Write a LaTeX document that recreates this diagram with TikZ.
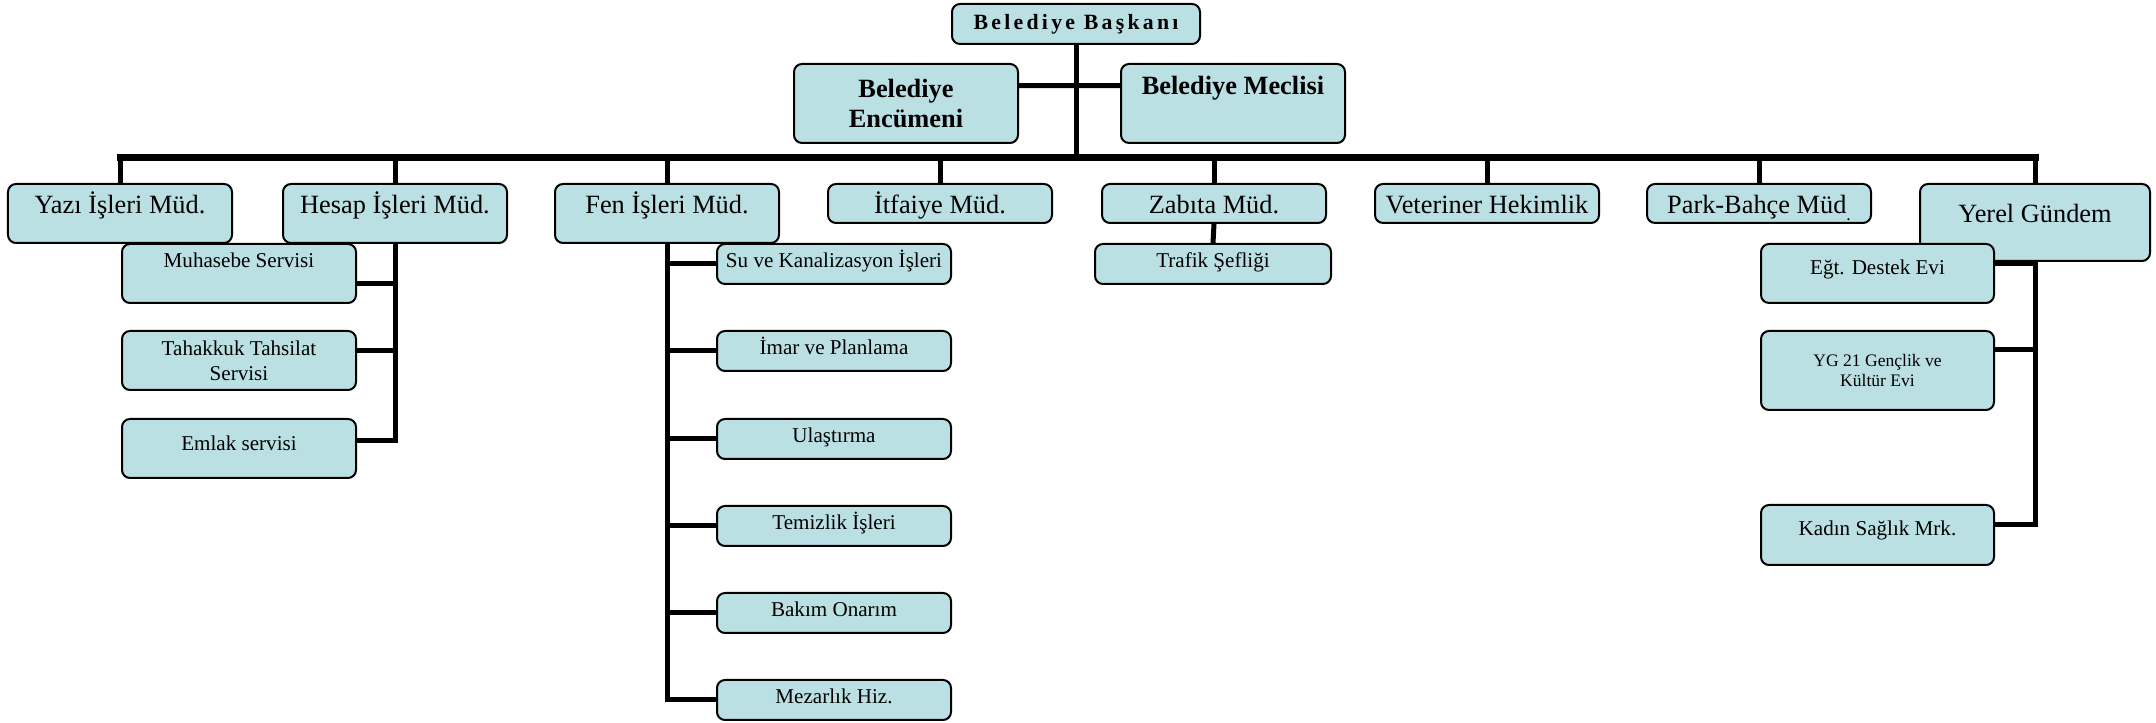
\documentclass[tikz,border=0pt]{standalone}
\usepackage{fontspec}
\setmainfont{Liberation Serif}
\definecolor{kutu}{RGB}{187,224,228}

\begin{document}
\begin{tikzpicture}[
					every node/.style = {
						shape = rectangle,
						draw,
						rounded corners = 0.08cm,
						line width = 0.02cm,
						fill = kutu,
						anchor = north,
						align = center,
						inner xsep = 0.04cm,
						inner ysep = 0.08cm,
					},
					mud/.style = {
						minimum width = 2.24cm,
						font = \fontsize{7.5}{8.6}\selectfont,
						text height = 0.22cm,
						text depth = #1,
					},
					servis/.style = {
						minimum width = 2.34cm,
						font = \fontsize{6}{7.2}\selectfont,
						text height = 0.16cm,
						text depth = #1,
					},
					conn/.style = {
						line width = 0.05cm,
					},
			]
				\useasboundingbox (0, 0) rectangle (21.56, -7.23);

				\draw (10.76, -0.03) node (baskan) [minimum width = 2.48cm, minimum height = 0.40cm,
					font = \fontsize{6.2}{7}\selectfont\bfseries\addfontfeature{LetterSpace=15}] {Belediye Başkanı};
				\draw (9.06, -0.63) node (encumen) [mud = , text height = , minimum height = 0.79cm,
					font = \fontsize{7.5}{8.6}\selectfont\bfseries] {Belediye\\Encümeni};
				\draw (12.33, -0.63) node (meclis) [mud = 0.40cm, text height = 0.23cm,
					font = \fontsize{7.5}{8.6}\selectfont\bfseries] {Belediye Meclisi};

				\draw (1.20, -1.83) node (yazi) [mud = 0.21cm] {Yazı İşleri Müd.};
				\draw (3.95, -1.83) node (hesap) [mud = 0.21cm] {Hesap İşleri Müd.};
				\draw (6.67, -1.83) node (fen) [mud = 0.21cm] {Fen İşleri Müd.};
				\draw (9.40, -1.83) node (itfaiye) [mud = 0.01cm] {İtfaiye Müd.};
				\draw (12.14, -1.83) node (zabita) [mud = 0.01cm] {Zabıta Müd.};
				\draw (14.87, -1.83) node (veteriner) [mud = 0.01cm] {Veteriner Hekimlik};
				\draw (17.59, -1.83) node (park) [mud = 0.01cm] {Park-Bahçe Müd\raisebox{-0.25em}{\tiny .}};
				\draw (20.35, -1.83) node (yerel) [mud = 0.30cm, text height = 0.31cm, minimum width = 2.30cm] {Yerel Gündem};

				\draw (2.39, -2.43) node (muhasebe) [servis = 0.27cm] {Muhasebe Servisi};
				\draw (2.39, -3.30) node (tahakkuk) [servis = , text height = , minimum height = 0.59cm] {Tahakkuk Tahsilat\\Servisi};
				\draw (2.39, -4.18) node (emlak) [servis = 0.19cm, text height = 0.24cm] {Emlak servisi};

				\draw (8.34, -2.43) node (su) [servis = 0.08cm] {Su ve Kanalizasyon İşleri};
				\draw (8.34, -3.30) node (imar) [servis = 0.08cm] {İmar ve Planlama};
				\draw (8.34, -4.18) node (ulastirma) [servis = 0.08cm] {Ulaştırma};
				\draw (8.34, -5.05) node (temizlik) [servis = 0.08cm] {Temizlik İşleri};
				\draw (8.34, -5.92) node (bakim) [servis = 0.08cm] {Bakım Onarım};
				\draw (8.34, -6.79) node (mezarlik) [servis = 0.08cm] {Mezarlık Hiz.};

				\draw (12.13, -2.43) node (trafik) [servis = 0.08cm, minimum width = 2.36cm] {Trafik Şefliği};

				\draw (18.775, -2.43) node (egt) [servis = 0.20cm, text height = 0.23cm, minimum width = 2.33cm] {Eğt. Destek Evi};
				\draw (18.775, -3.30) node (yg21) [servis = , text height = , minimum width = 2.33cm, minimum height = 0.79cm,
					font = \fontsize{5}{5.6}\selectfont] {YG 21 Gençlik ve\\Kültür Evi};
				\draw (18.775, -5.04) node (kadin) [servis = 0.21cm, text height = 0.23cm, minimum width = 2.33cm] {Kadın Sağlık Mrk.};

				\coordinate (bus) at (0, -1.575);

				\draw[conn] (baskan.south) -- (bus -| baskan.south);
				\draw[conn] (encumen.9) -- (meclis.171);
				\draw[line width = 0.07cm, line cap = rect] (bus -| yazi.north) -- (bus -| yerel.north);
				\foreach \n in {yazi, hesap, fen, itfaiye, zabita, veteriner, park, yerel}
					\draw[conn] (bus -| \n.north) -- (\n.north);

				\foreach \s/\a in {muhasebe/-5, tahakkuk/5, emlak/4}
					\draw[conn] (hesap.south) |- (\s.\a);
				\foreach \s in {su, imar, ulastirma, temizlik, bakim, mezarlik}
					\draw[conn] (fen.south) |- (\s.west);
				\draw[conn] (zabita.south) -- (trafik.north);
				\foreach \s/\a in {egt/5, yg21/10, kadin/5}
					\draw[conn] (yerel.south) |- (\s.\a);
			\end{tikzpicture}
\end{document}
